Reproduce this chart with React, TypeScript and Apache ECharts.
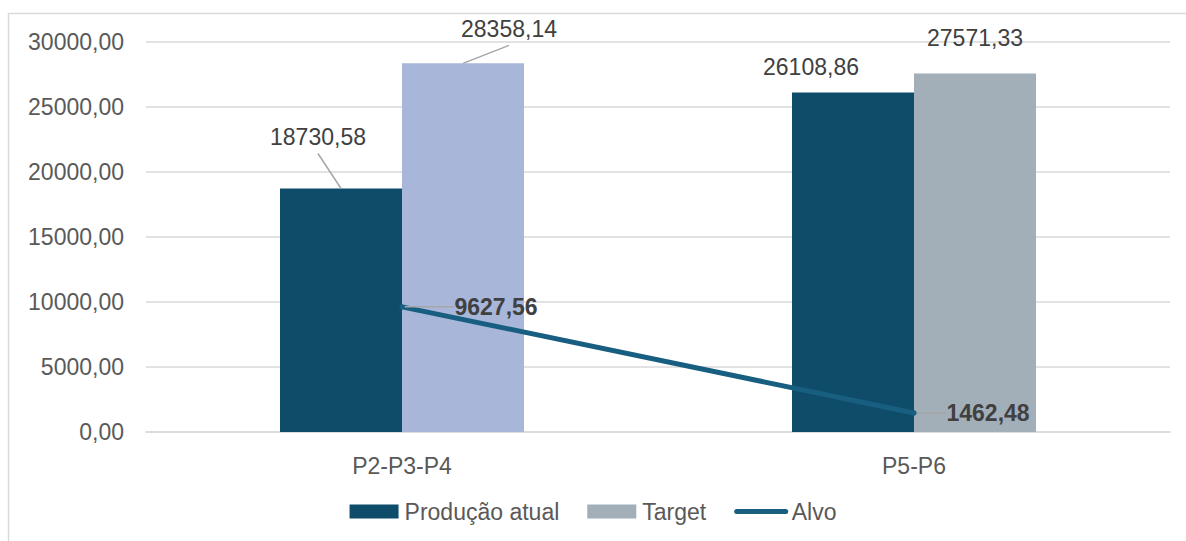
import React, { useEffect, useRef } from "react";
import * as echarts from "echarts";

const categories = ["P2-P3-P4", "P5-P6"];
const producaoAtual = [18730.58, 26108.86];
const target = [28358.14, 27571.33];
const alvo = [9627.56, 1462.48];
const yTicks = { min: 0, max: 30000, interval: 5000 };

// label offsets (dx, dy) per series / data index
const labelOffsets: number[][][] = [
  [[-23, -26], [-42, 0]],
  [[46, -9], [0, -10]],
  [[44, 0], [24, 0]],
];
const barLeaderShown = [
  [true, false],
  [true, false],
];

const fmt = (v: number) => v.toFixed(2).replace(".", ",");
const FONT = "'Liberation Sans', Arial, sans-serif";
const TEXT = "#595959";
const BAR_W = 122;
const LABEL_DIST = 14;
const LEADER = { stroke: "#a6a6a6", lineWidth: 1.5 };

export default function App() {
  const ref = useRef<HTMLDivElement>(null);
  useEffect(() => {
    if (!ref.current) return;
    const chart = echarts.init(ref.current, undefined, { renderer: "svg" });
    const barLabel = {
      show: true,
      position: "top",
      distance: LABEL_DIST,
      fontSize: 23,
      color: "#404040",
      fontFamily: FONT,
      formatter: (p: any) => fmt(p.value),
    };
    const border = {
      id: "border",
      type: "rect",
      shape: { x: 8.5, y: 13.5, width: 1300, height: 700 },
      style: { fill: "none", stroke: "#d9d9d9", lineWidth: 1.5 },
      silent: true,
    };
    chart.setOption({
      animation: false,
      textStyle: { fontFamily: FONT },
      graphic: [border],
      grid: { left: 146, right: 16, top: 42, bottom: 109, containLabel: false },
      legend: {
        bottom: 13,
        left: "center",
        itemWidth: 49,
        itemHeight: 14,
        itemGap: 28,
        textStyle: { fontSize: 23, color: TEXT, fontFamily: FONT, padding: [0, 0, 0, 1] },
        data: [
          { name: "Produção atual", icon: "rect" },
          { name: "Target", icon: "rect" },
          { name: "Alvo", itemStyle: { opacity: 0 }, lineStyle: { width: 5, cap: "round" } },
        ],
      },
      xAxis: {
        type: "category",
        data: categories,
        axisTick: { show: false },
        axisLine: { lineStyle: { color: "#d9d9d9", width: 1.5 } },
        axisLabel: { fontSize: 23, color: TEXT, margin: 22, fontFamily: FONT },
      },
      yAxis: {
        type: "value",
        min: yTicks.min,
        max: yTicks.max,
        interval: yTicks.interval,
        axisLine: { show: false },
        axisTick: { show: false },
        splitLine: { lineStyle: { color: "#d9d9d9", width: 1.5 } },
        axisLabel: { fontSize: 23, color: TEXT, margin: 22, formatter: (v: number) => fmt(v), fontFamily: FONT },
      },
      series: [
        {
          name: "Produção atual",
          type: "bar",
          barWidth: BAR_W,
          barGap: "0%",
          itemStyle: { color: "#0f4c69" },
          data: producaoAtual,
          label: barLabel,
          labelLayout: (p: any) => ({ dx: labelOffsets[0][p.dataIndex][0], dy: labelOffsets[0][p.dataIndex][1] }),
        },
        {
          name: "Target",
          type: "bar",
          barWidth: BAR_W,
          barGap: "0%",
          itemStyle: { color: "#a2afb9" },
          data: target.map((v, i) => (i === 0 ? { value: v, itemStyle: { color: "#a8b6da" } } : v)),
          label: barLabel,
          labelLayout: (p: any) => ({ dx: labelOffsets[1][p.dataIndex][0], dy: labelOffsets[1][p.dataIndex][1] }),
        },
        {
          name: "Alvo",
          type: "line",
          data: alvo,
          symbol: "circle",
          symbolSize: 5,
          showSymbol: true,
          itemStyle: { color: "#175e80" },
          lineStyle: { color: "#175e80", width: 5, cap: "round" },
          z: 5,
          label: {
            show: true,
            position: "right",
            distance: 6,
            fontSize: 23,
            fontWeight: "bold",
            color: "#404040",
            fontFamily: FONT,
            formatter: (p: any) => fmt(p.value),
          },
          labelLine: { show: true, lineStyle: { color: "#a6a6a6", width: 1.5 } },
          labelLayout: (p: any) => ({ dx: labelOffsets[2][p.dataIndex][0], dy: labelOffsets[2][p.dataIndex][1] }),
        },
      ],
    });

    // leader lines for the moved bar labels, positioned through the chart's own scales
    const barSeries = [producaoAtual, target];
    const leaders: any[] = [];
    barSeries.forEach((vals, s) => {
      vals.forEach((v, i) => {
        if (!barLeaderShown[s][i]) return;
        const pt = chart.convertToPixel({ gridIndex: 0 }, [i, v]) as number[];
        const cx = pt[0] + (s === 0 ? -1 : 1) * (BAR_W / 2);
        const top = pt[1];
        const [dx, dy] = labelOffsets[s][i];
        const ex = cx + dx;
        const ey = top - LABEL_DIST + dy + 5;
        leaders.push({
          id: `leader-${s}-${i}`,
          type: "line",
          silent: true,
          z: 10,
          shape: { x1: cx, y1: top, x2: ex, y2: ey },
          style: LEADER,
        });
      });
    });
    chart.setOption({ graphic: [border, ...leaders] });

    return () => chart.dispose();
  }, []);
  return (
    <div
      ref={ref}
      style={{ position: "fixed", left: 0, top: 0, width: 1186, height: 541, background: "#fff" }}
    />
  );
}
